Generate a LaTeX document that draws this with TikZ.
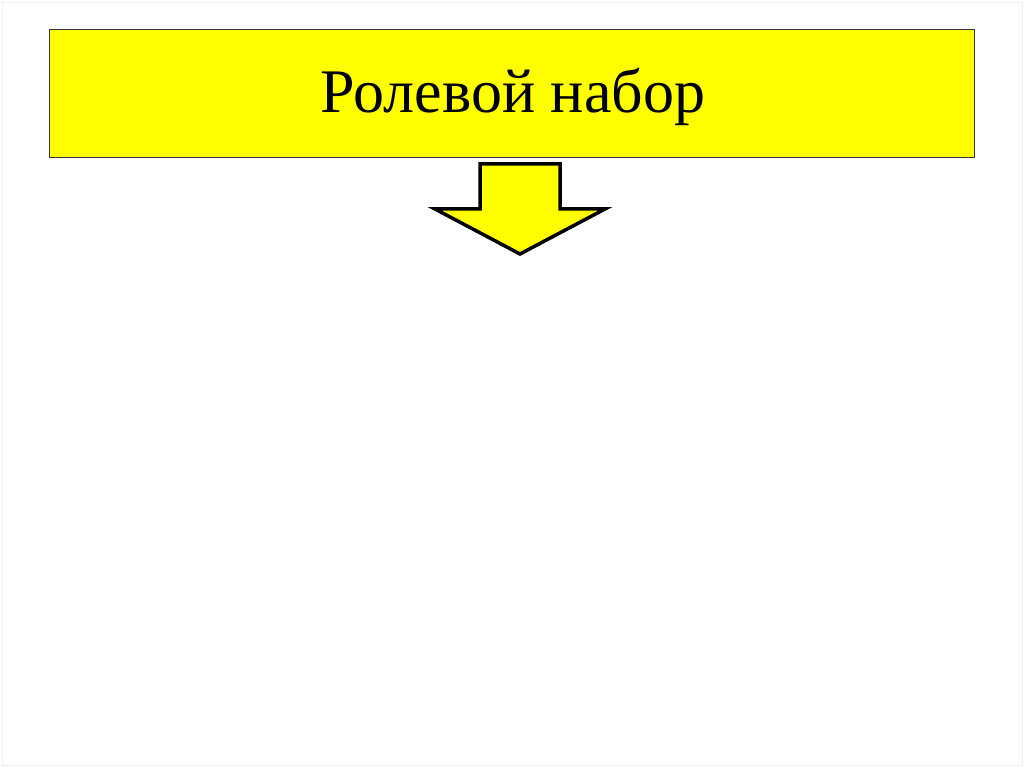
\documentclass[tikz,border=0pt]{standalone}
\usepackage{fontspec}
\setmainfont{Liberation Serif}
\definecolor{boxyellow}{RGB}{255,255,0}
\tikzset{
  titlebox/.style={draw=black!80, line width=1.2pt, fill=boxyellow},
  arrowshape/.style={draw=black, line width=3.5pt, fill=boxyellow, line join=miter},
}
\begin{document}
\begin{tikzpicture}[x=1pt, y=-1pt]
\useasboundingbox (0,0) rectangle (1024,767);
\fill[white] (0,0) rectangle (1024,767);
\draw[black!6, line width=0.8pt] (2,2) rectangle (1022,765);
\node[titlebox, minimum width=925pt, minimum height=128pt, inner sep=0pt, anchor=north west] (title) at (49,29) {};
\node[anchor=base, inner sep=0pt, font=\fontsize{62}{66}\selectfont] (label) at (513,113) {Ролевой набор};
\coordinate (tip) at (520,254);
\draw[arrowshape] (480,164) -- (560,164) -- (560,209) -- (605,209) -- (tip) -- (435,209) -- (480,209) -- cycle;
\end{tikzpicture}
\end{document}
